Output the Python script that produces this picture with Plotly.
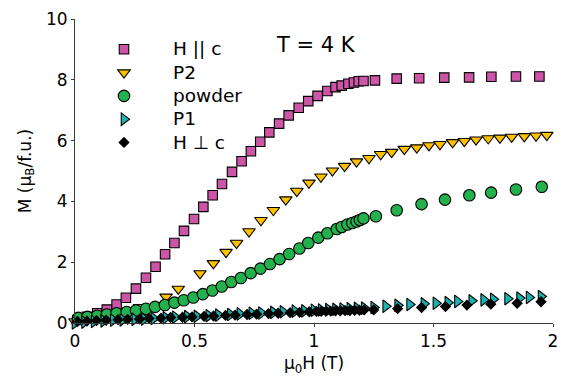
import plotly.graph_objects as go

# Magnetization M (muB per formula unit) versus applied field mu0*H (T) at T = 4 K
h_par = [0.01, 0.05, 0.093, 0.133, 0.174, 0.213, 0.255, 0.297, 0.337, 0.377, 0.416,
         0.456, 0.498, 0.537, 0.576, 0.615, 0.657, 0.697, 0.736, 0.775, 0.813, 0.854,
         0.894, 0.936, 0.976, 1.015, 1.056, 1.09, 1.116, 1.144, 1.167, 1.187, 1.207,
         1.255, 1.346, 1.44, 1.545, 1.649, 1.742, 1.845, 1.943]
m_par = [0.1, 0.2, 0.32, 0.44, 0.61, 0.83, 1.13, 1.49, 1.85, 2.26, 2.63,
         3.03, 3.42, 3.82, 4.2, 4.57, 4.97, 5.32, 5.65, 5.96, 6.27, 6.56,
         6.83, 7.08, 7.3, 7.47, 7.63, 7.76, 7.81, 7.87, 7.91, 7.95, 7.96,
         7.98, 8.04, 8.05, 8.07, 8.08, 8.1, 8.11, 8.11]

h_p2 = [0.0, 0.13, 0.27, 0.381, 0.432, 0.523, 0.579, 0.632, 0.676, 0.728, 0.778,
        0.83, 0.882, 0.928, 0.979, 1.029, 1.077, 1.128, 1.178, 1.23, 1.279, 1.325,
        1.378, 1.43, 1.481, 1.527, 1.58, 1.629, 1.678, 1.729, 1.778, 1.827, 1.88,
        1.929, 1.974, 2.008]
m_p2 = [0.05, 0.2, 0.52, 0.86, 1.12, 1.63, 1.96, 2.33, 2.63, 3.01, 3.38,
        3.71, 4.06, 4.34, 4.61, 4.81, 5.01, 5.16, 5.31, 5.42, 5.55, 5.62,
        5.72, 5.77, 5.84, 5.88, 5.94, 5.98, 6.03, 6.07, 6.09, 6.12, 6.14,
        6.16, 6.18, 6.19]

h_powder = [0.014, 0.052, 0.093, 0.133, 0.174, 0.216, 0.255, 0.297, 0.335, 0.376,
            0.416, 0.455, 0.495, 0.535, 0.575, 0.614, 0.654, 0.694, 0.735, 0.776,
            0.816, 0.856, 0.896, 0.939, 0.976, 1.018, 1.056, 1.095, 1.116, 1.14,
            1.16, 1.178, 1.192, 1.207, 1.259, 1.346, 1.45, 1.548, 1.65, 1.741,
            1.845, 1.953]
m_powder = [0.17, 0.2, 0.24, 0.28, 0.32, 0.36, 0.41, 0.47, 0.53, 0.59,
            0.67, 0.75, 0.84, 0.95, 1.07, 1.2, 1.35, 1.48, 1.64, 1.79,
            1.94, 2.1, 2.27, 2.45, 2.63, 2.81, 2.95, 3.09, 3.16, 3.24,
            3.29, 3.34, 3.39, 3.44, 3.51, 3.71, 3.91, 4.06, 4.2, 4.29,
            4.39, 4.48]

h_p1 = [0.0, 0.04, 0.08, 0.12, 0.16, 0.2, 0.25, 0.29, 0.33, 0.38, 0.42, 0.47,
        0.51, 0.56, 0.6, 0.65, 0.69, 0.74, 0.78, 0.83, 0.87, 0.92, 0.96, 1.0,
        1.03, 1.06, 1.09, 1.12, 1.15, 1.18, 1.21, 1.25, 1.3, 1.35, 1.4, 1.46,
        1.51, 1.56, 1.6, 1.66, 1.71, 1.75, 1.81, 1.86, 1.9, 1.95, 2.01]
m_p1 = [0.0, 0.03, 0.05, 0.07, 0.09, 0.1, 0.12, 0.13, 0.15, 0.17, 0.19, 0.21,
        0.22, 0.24, 0.26, 0.28, 0.3, 0.32, 0.33, 0.35, 0.37, 0.39, 0.4, 0.42,
        0.43, 0.44, 0.45, 0.46, 0.47, 0.48, 0.49, 0.51, 0.55, 0.58, 0.61, 0.63,
        0.65, 0.67, 0.71, 0.73, 0.76, 0.78, 0.8, 0.82, 0.84, 0.87, 0.89]

h_perp = [0.01, 0.05, 0.09, 0.13, 0.18, 0.22, 0.27, 0.31, 0.36, 0.4, 0.45, 0.49,
          0.54, 0.58, 0.63, 0.67, 0.72, 0.76, 0.81, 0.85, 0.9, 0.94, 0.98, 1.01,
          1.03, 1.05, 1.07, 1.09, 1.11, 1.13, 1.15, 1.17, 1.19, 1.21, 1.25, 1.35,
          1.45, 1.55, 1.64, 1.74, 1.85, 1.95]
m_perp = [0.05, 0.06, 0.08, 0.09, 0.11, 0.12, 0.13, 0.15, 0.16, 0.18, 0.19, 0.2,
          0.22, 0.23, 0.25, 0.26, 0.28, 0.29, 0.31, 0.32, 0.34, 0.35, 0.37, 0.38,
          0.38, 0.39, 0.39, 0.4, 0.4, 0.41, 0.41, 0.42, 0.42, 0.43, 0.43, 0.47,
          0.51, 0.54, 0.59, 0.62, 0.65, 0.7]

x_ticks = [0, 0.5, 1, 1.5, 2]
x_tick_text = ["0", "0.5", "1", "1.5", "2"]
y_ticks = [0, 2, 4, 6, 8, 10]
y_tick_text = ["0", "2", "4", "6", "8", "10"]

FONT = "DejaVu Sans"
AXIS_COLOR = "#3a3a3a"
LEGEND_TEXT_PX = 18.5

series = [
    ("H || c", h_par, m_par, "square", 9.5, "#CC55A6"),
    ("P2", h_p2, m_p2, "triangle-down", 11, "#FFC000"),
    ("powder", h_powder, m_powder, "circle", 11.5, "#22B14C"),
    ("P1", h_p1, m_p1, "triangle-right", 11, "#17B3B0"),
    ("H \u22a5 c", h_perp, m_perp, "diamond", 7.5, "#000000"),
]

fig = go.Figure()
for name, xs, ys, sym, size, color in series:
    fig.add_trace(go.Scatter(
        x=xs, y=ys, mode="markers", cliponaxis=False,
        name=f'<span style="font-size:{LEGEND_TEXT_PX}px">{name}</span>',
        marker=dict(symbol=sym, size=size, color=color,
                    line=dict(color="#000000", width=1.1)),
    ))

tickfont = dict(family=FONT, size=17, color="#000000")
common_x = dict(range=[0, 2], showgrid=False, zeroline=False, automargin=False)
common_y = dict(range=[0, 10], showgrid=False, zeroline=False, automargin=False)

fig.update_layout(
    width=561, height=376,
    margin=dict(l=75, r=8, t=19, b=53),
    paper_bgcolor="white", plot_bgcolor="white",
    font=dict(family=FONT, size=17, color="#000000"),
    xaxis=dict(**common_x, tickvals=x_ticks, ticktext=x_tick_text,
               ticks="outside", ticklen=3, tickcolor=AXIS_COLOR, tickwidth=1,
               showline=True, linecolor=AXIS_COLOR, linewidth=1,
               tickfont=tickfont,
               title=dict(text="\u03bc<sub>0</sub>H (T)", font=dict(family=FONT, size=17),
                          standoff=17)),
    xaxis2=dict(**common_x, overlaying="x", matches="x", anchor="y", side="bottom",
                tickvals=x_ticks, ticks="inside", ticklen=3, tickcolor=AXIS_COLOR,
                showticklabels=False, showline=False),
    xaxis3=dict(**common_x, overlaying="x", matches="x", anchor="y", side="top",
                tickvals=x_ticks, ticks="inside", ticklen=4, tickcolor=AXIS_COLOR,
                showticklabels=False, showline=True, linecolor=AXIS_COLOR, linewidth=1),
    yaxis=dict(**common_y, tickvals=y_ticks, ticktext=y_tick_text,
               ticks="outside", ticklen=3, tickcolor=AXIS_COLOR, tickwidth=1,
               showline=True, linecolor=AXIS_COLOR, linewidth=1,
               tickfont=tickfont,
               title=dict(text="M (\u03bc<sub>B</sub>/f.u.)", font=dict(family=FONT, size=17),
                          standoff=10)),
    yaxis2=dict(**common_y, overlaying="y", matches="y", anchor="x", side="left",
                tickvals=y_ticks, ticks="inside", ticklen=3, tickcolor=AXIS_COLOR,
                showticklabels=False, showline=False),
    yaxis3=dict(**common_y, overlaying="y", matches="y", anchor="x", side="right",
                tickvals=y_ticks, ticks="inside", ticklen=4, tickcolor=AXIS_COLOR,
                showticklabels=False, showline=True, linecolor=AXIS_COLOR, linewidth=1),
    legend=dict(x=0.0, y=0.955, xanchor="left", yanchor="top",
                bgcolor="rgba(0,0,0,0)", borderwidth=0, itemwidth=88,
                font=dict(family=FONT, size=15.6, color="#000000"),
                tracegroupgap=0),
    showlegend=True,
    annotations=[dict(text="T = 4 K", xref="paper", yref="paper", x=0.505, y=0.914,
                      xanchor="center", yanchor="middle", showarrow=False,
                      font=dict(family=FONT, size=21, color="#000000"))],
)

fig.write_html("out.html")
